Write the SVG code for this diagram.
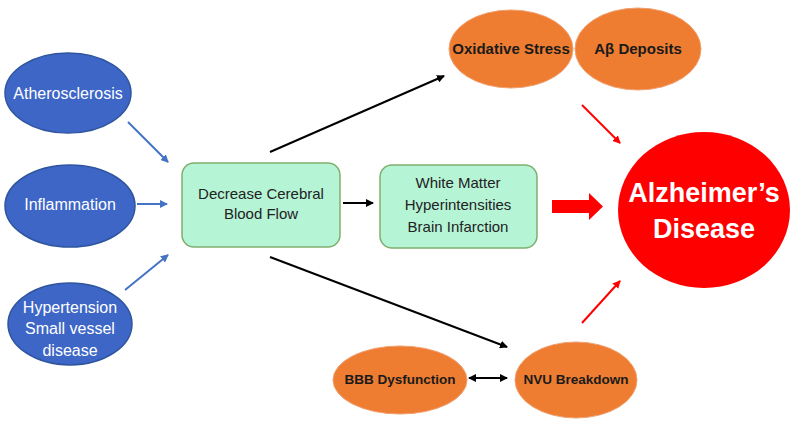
<svg xmlns="http://www.w3.org/2000/svg" width="800" height="426" viewBox="0 0 800 426">
<defs>
<style>
.blue{fill:#3d66c6;stroke:#2f559f;stroke-width:1.5}
.orange{fill:#ee7d31;stroke:#f0a070;stroke-width:1}
.box{fill:#b6f4d6;stroke:#7fae6e;stroke-width:1.5}
.wt{font-family:"Liberation Sans",Arial,sans-serif;font-size:16px;fill:#ffffff;text-anchor:middle}
.bt{font-family:"Liberation Sans",Arial,sans-serif;font-size:15px;fill:#222222;text-anchor:middle}
.ot{font-family:"Liberation Sans",Arial,sans-serif;font-weight:bold;fill:#1a1a1a;text-anchor:middle}
.ad{font-family:"Liberation Sans",Arial,sans-serif;font-weight:bold;font-size:27px;fill:#ffffff;text-anchor:middle}
.ab{stroke:#4472c4;stroke-width:2;fill:none}
.ak{stroke:#000000;stroke-width:2;fill:none}
.ar{stroke:#ff0000;stroke-width:2;fill:none}
</style>
<marker id="mb" markerWidth="8" markerHeight="8" refX="7" refY="4" orient="auto" markerUnits="userSpaceOnUse"><path d="M0,0 L8,4 L0,8 Z" fill="#4472c4"/></marker>
<marker id="mk" markerWidth="8" markerHeight="8" refX="7" refY="4" orient="auto" markerUnits="userSpaceOnUse"><path d="M0,0 L8,4 L0,8 Z" fill="#000000"/></marker>
<marker id="mks" markerWidth="8" markerHeight="8" refX="1" refY="4" orient="auto" markerUnits="userSpaceOnUse"><path d="M8,0 L0,4 L8,8 Z" fill="#000000"/></marker>
<marker id="mr" markerWidth="8" markerHeight="8" refX="7" refY="4" orient="auto" markerUnits="userSpaceOnUse"><path d="M0,0 L8,4 L0,8 Z" fill="#ff0000"/></marker>
</defs>
<rect width="800" height="426" fill="#ffffff"/>

<g id="connectors">
<line class="ab" x1="128" y1="122" x2="168" y2="162" marker-end="url(#mb)"/>
<line class="ab" x1="137" y1="204" x2="167" y2="204" marker-end="url(#mb)"/>
<line class="ab" x1="125" y1="290" x2="168" y2="255" marker-end="url(#mb)"/>
<line class="ak" x1="270" y1="152" x2="444" y2="76" marker-end="url(#mk)"/>
<line class="ak" x1="343" y1="203" x2="373" y2="203" marker-end="url(#mk)"/>
<line class="ak" x1="270" y1="257" x2="507" y2="347" marker-end="url(#mk)"/>
<line class="ak" x1="469" y1="378" x2="507" y2="378" marker-start="url(#mks)" marker-end="url(#mk)"/>
<line class="ar" x1="582" y1="105" x2="620" y2="143" marker-end="url(#mr)"/>
<line class="ar" x1="582" y1="323" x2="620" y2="281" marker-end="url(#mr)"/>
<path d="M552,200 L589,200 L589,193 L603,206.5 L589,220 L589,213 L552,213 Z" fill="#ff0000"/>
</g>

<g id="atherosclerosis">
<ellipse class="blue" cx="68" cy="93" rx="63" ry="40"/>
<text class="wt" x="68" y="99">Atherosclerosis</text>
</g>
<g id="inflammation">
<ellipse class="blue" cx="70" cy="206" rx="65" ry="41"/>
<text class="wt" x="70" y="210">Inflammation</text>
</g>
<g id="hypertension">
<ellipse class="blue" cx="70" cy="324" rx="62" ry="41"/>
<text class="wt" x="70" y="313">Hypertension</text>
<text class="wt" x="70" y="334">Small vessel</text>
<text class="wt" x="70" y="356">disease</text>
</g>

<g id="decrease-cbf">
<rect class="box" x="182" y="163" width="158" height="84" rx="12"/>
<text class="bt" x="261" y="199">Decrease Cerebral</text>
<text class="bt" x="261" y="219">Blood Flow</text>
</g>
<g id="white-matter">
<rect class="box" x="380" y="165" width="157" height="83" rx="12"/>
<text class="bt" x="458" y="188">White Matter</text>
<text class="bt" x="458" y="210">Hyperintensities</text>
<text class="bt" x="458" y="232">Brain Infarction</text>
</g>

<g id="oxidative-stress">
<ellipse class="orange" cx="511" cy="49" rx="62" ry="39"/>
<text class="ot" x="511" y="54" font-size="15">Oxidative Stress</text>
</g>
<g id="ab-deposits">
<ellipse class="orange" cx="638" cy="49" rx="63" ry="41"/>
<text class="ot" x="638" y="54" font-size="15">Aβ Deposits</text>
</g>

<g id="alzheimers">
<ellipse cx="704" cy="210" rx="86" ry="78" fill="#ff0000"/>
<text class="ad" x="704" y="202">Alzheimer’s</text>
<text class="ad" x="704" y="238">Disease</text>
</g>

<g id="bbb-dysfunction">
<ellipse class="orange" cx="400" cy="380" rx="67" ry="34"/>
<text class="ot" x="400" y="384" font-size="13.5">BBB Dysfunction</text>
</g>
<g id="nvu-breakdown">
<ellipse class="orange" cx="576" cy="380" rx="61" ry="38"/>
<text class="ot" x="576" y="384" font-size="13.5">NVU Breakdown</text>
</g>
</svg>
